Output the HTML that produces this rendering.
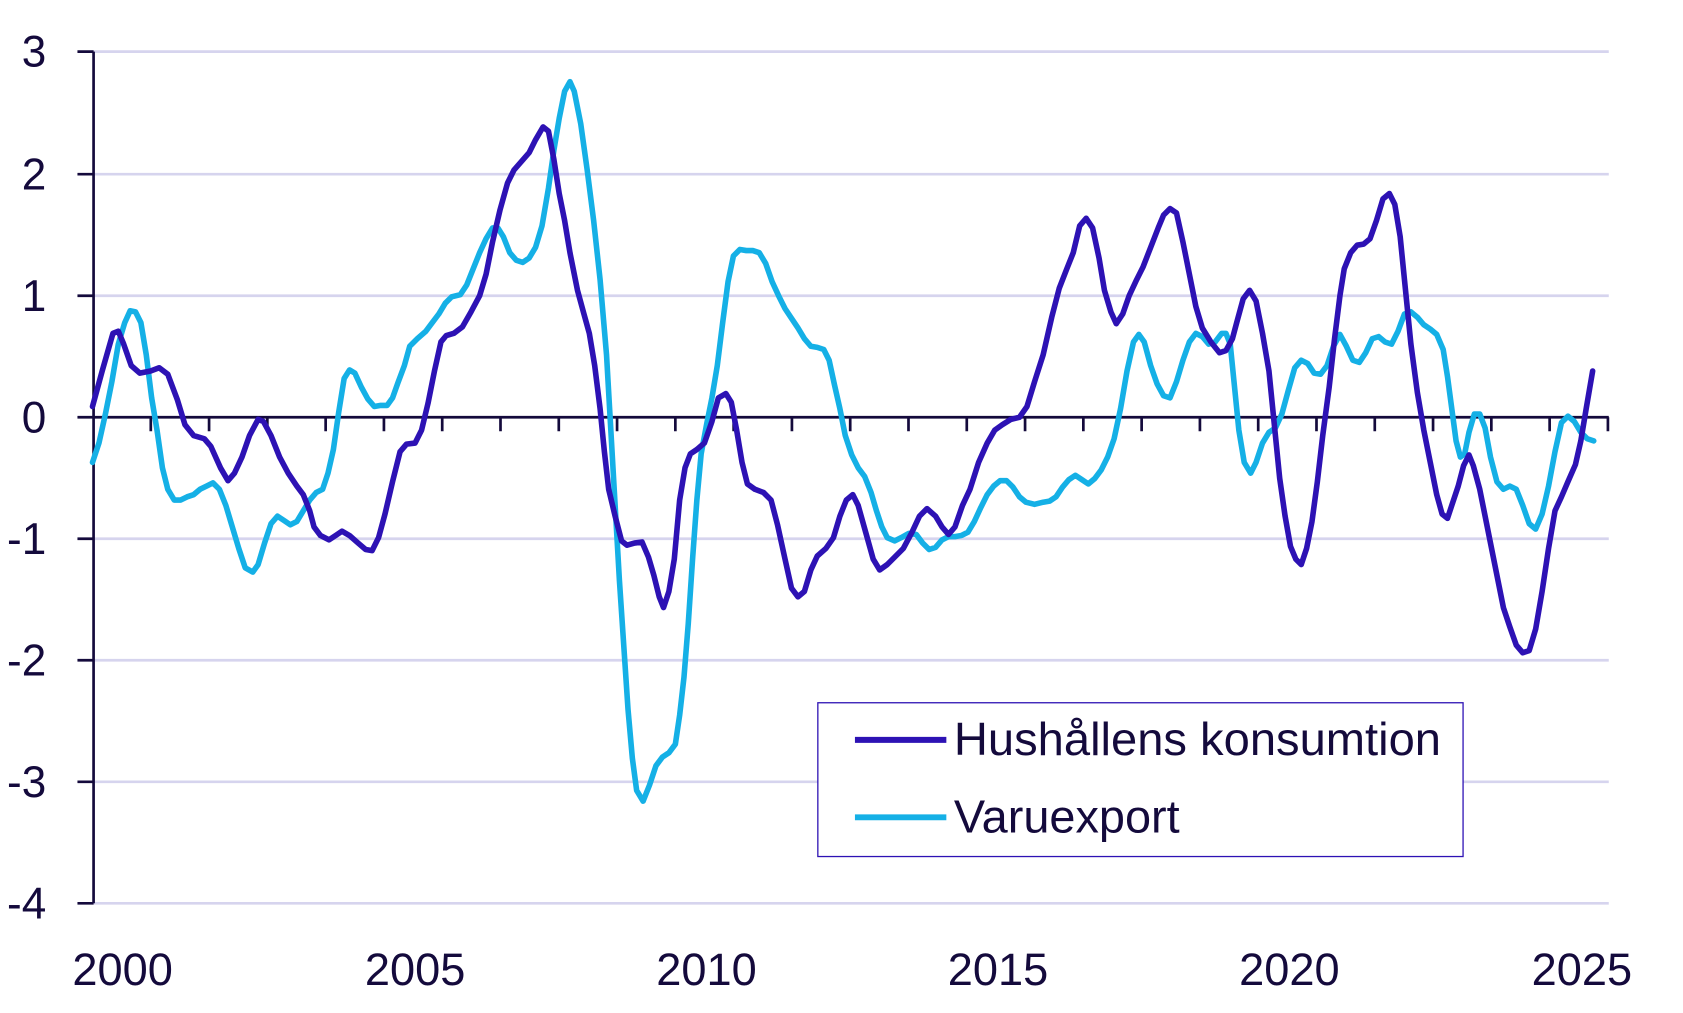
<!DOCTYPE html>
<html><head><meta charset="utf-8"><style>html,body{margin:0;padding:0;background:#fff}svg{display:block}text{font-family:"Liberation Sans",sans-serif;fill:#140a3c}</style></head>
<body>
<svg width="1683" height="1013" viewBox="0 0 1565 942" xmlns="http://www.w3.org/2000/svg">
<g stroke="#d6d4ee" stroke-width="2.5">
<line x1="86" x2="1496" y1="48" y2="48"/><line x1="86" x2="1496" y1="162" y2="162"/><line x1="86" x2="1496" y1="275" y2="275"/><line x1="86" x2="1496" y1="501" y2="501"/><line x1="86" x2="1496" y1="614" y2="614"/><line x1="86" x2="1496" y1="727" y2="727"/><line x1="86" x2="1496" y1="840" y2="840"/>
</g>
<g stroke="#140a3c" stroke-width="2.5">
<line x1="87" x2="87" y1="48" y2="840"/>
<line x1="72" x2="87" y1="48" y2="48"/><line x1="72" x2="87" y1="162" y2="162"/><line x1="72" x2="87" y1="275" y2="275"/><line x1="72" x2="87" y1="388" y2="388"/><line x1="72" x2="87" y1="501" y2="501"/><line x1="72" x2="87" y1="614" y2="614"/><line x1="72" x2="87" y1="727" y2="727"/><line x1="72" x2="87" y1="840" y2="840"/>
<line x1="87" x2="1496" y1="388" y2="388"/>
<path d="M140.2 388v13M194.4 388v13M248.6 388v13M302.8 388v13M357 388v13M411.2 388v13M465.4 388v13M519.6 388v13M573.8 388v13M628 388v13M682.2 388v13M736.4 388v13M790.6 388v13M844.8 388v13M899 388v13M953.2 388v13M1007.4 388v13M1061.6 388v13M1115.8 388v13M1170 388v13M1224.2 388v13M1278.4 388v13M1332.6 388v13M1386.8 388v13M1441 388v13M1495.2 388v13"/>
</g>
<g font-size="41" text-anchor="end">
<text x="43" y="62">3</text><text x="43" y="176">2</text><text x="43" y="289">1</text><text x="43" y="402">0</text><text x="43" y="515">-1</text><text x="43" y="628">-2</text><text x="43" y="741">-3</text><text x="43" y="854">-4</text>
</g>
<g font-size="42" text-anchor="middle">
<text x="114" y="916">2000</text><text x="386" y="916">2005</text><text x="657" y="916">2010</text><text x="928" y="916">2015</text><text x="1199" y="916">2020</text><text x="1471" y="916">2025</text>
</g>
<g fill="none" stroke-width="5.2" stroke-linejoin="round" stroke-linecap="round">
<polyline stroke="#15b0e6" points="86,430 92,412 98,385 104,355 110,320 116,300 121,289 126,290 131,300 136,330 141,370 146,400 151,435 156,455 162,465 168,465 174,462 180,460 186,455 192,452 198,449 204,455 210,470 216,490 222,510 228,528 235,532 240,525 246,505 252,487 258,480 264,484 270,488 276,485 282,475 288,465 294,458 300,455 305,440 310,418 315,383 320,352 325,344 330,347 336,360 342,371 348,378 354,377 360,377 365,370 370,356 376,340 381,322 388,315 396,308 402,300 408,292 414,282 420,276 428,274 434,265 440,250 446,235 452,222 458,212 463,212 468,220 474,235 480,242 486,244 492,240 498,230 504,210 510,175 515,140 520,110 525,85 530,76 534,85 540,115 546,158 552,205 558,260 564,330 568,400 572,470 576,540 580,600 584,660 588,705 592,735 598,745 604,730 610,712 616,704 622,700 628,692 632,665 636,630 640,580 644,520 648,465 652,422 657,395 662,370 667,340 672,300 677,262 682,238 688,232 694,233 700,233 706,235 712,245 718,262 724,275 730,287 736,296 742,305 748,315 754,322 760,323 766,325 771,335 776,358 781,380 786,405 792,423 798,435 804,443 810,458 815,475 820,490 825,500 832,503 838,500 845,496 852,497 858,505 864,511 870,509 876,502 882,499 888,499 894,498 900,495 906,485 912,472 918,460 924,452 930,447 936,447 942,453 948,462 954,467 962,469 970,467 976,466 982,462 988,453 994,446 1000,442 1006,446 1012,450 1018,445 1024,437 1030,425 1036,408 1042,380 1048,345 1054,318 1059,311 1064,318 1070,340 1076,357 1082,368 1088,370 1094,355 1100,335 1106,318 1112,310 1118,313 1124,320 1130,318 1136,310 1140,310 1144,320 1148,360 1152,400 1157,430 1163,440 1168,430 1174,412 1180,402 1186,398 1192,385 1198,363 1204,342 1210,335 1216,338 1222,347 1228,348 1234,340 1240,322 1246,311 1252,322 1258,335 1264,337 1270,328 1276,315 1282,313 1288,318 1294,320 1300,308 1306,292 1312,290 1318,295 1324,302 1330,306 1336,311 1342,325 1346,350 1350,380 1354,410 1358,425 1362,422 1366,402 1371,385 1376,385 1381,398 1386,425 1392,448 1398,455 1404,452 1410,455 1416,470 1422,487 1428,492 1434,478 1440,452 1446,420 1452,393 1458,387 1464,392 1470,402 1476,408 1482,410"/>
<polyline stroke="#2d12b4" points="86,378 95,345 105,310 110,308 115,320 122,340 130,347 140,345 148,342 156,348 165,372 172,395 180,405 190,408 196,415 205,435 212,447 218,440 225,425 232,405 240,390 245,392 252,405 260,425 268,440 276,452 282,460 288,475 292,490 298,498 306,502 312,498 318,494 325,498 333,505 340,511 346,512 352,500 358,478 365,448 372,420 378,413 386,412 392,400 398,375 404,345 410,318 415,312 422,310 430,304 438,290 446,275 452,255 458,225 465,195 472,170 478,158 485,150 492,142 498,130 505,118 510,122 515,148 520,180 525,205 530,235 537,270 543,292 548,310 553,340 558,380 562,420 566,455 572,480 578,503 583,507 590,505 597,504 603,518 608,535 613,555 617,565 622,550 627,520 632,465 637,435 642,422 648,418 655,412 662,392 668,370 675,366 680,374 685,400 690,430 695,450 702,455 710,458 717,465 723,488 730,520 736,547 742,555 748,550 754,530 760,517 768,510 775,500 781,480 787,465 793,460 798,470 805,495 812,520 818,530 825,525 832,518 840,510 848,495 855,480 862,473 870,480 876,490 882,497 888,490 895,470 902,455 910,430 918,412 925,400 932,395 940,390 948,388 955,378 962,355 970,330 978,295 985,268 992,250 998,235 1004,210 1010,203 1016,212 1022,240 1027,270 1033,290 1038,301 1044,292 1050,275 1057,260 1063,248 1070,230 1077,212 1082,200 1088,194 1094,198 1100,225 1106,255 1112,285 1118,305 1126,318 1134,328 1140,326 1146,315 1150,300 1156,278 1162,270 1168,280 1174,310 1180,345 1185,395 1190,445 1195,480 1200,508 1205,520 1210,525 1215,510 1220,485 1225,448 1230,405 1236,360 1241,315 1246,275 1250,250 1256,235 1262,228 1268,227 1274,222 1280,205 1286,185 1292,180 1297,190 1302,220 1307,270 1312,320 1318,365 1324,400 1330,430 1336,460 1341,478 1346,482 1350,470 1356,452 1361,433 1366,423 1370,433 1376,455 1382,485 1388,515 1394,545 1398,565 1404,583 1410,600 1416,607 1422,605 1428,585 1434,550 1440,510 1446,475 1452,462 1458,448 1465,432 1470,410 1475,380 1481,345"/>
</g>
<rect x="760.5" y="653.5" width="600" height="143" fill="#fff" stroke="#2d12b4" stroke-width="1.2"/>
<line x1="795" x2="880" y1="688" y2="688" stroke="#2d12b4" stroke-width="5.5"/>
<line x1="795" x2="880" y1="760" y2="760" stroke="#15b0e6" stroke-width="5.5"/>
<text x="887" y="702" font-size="43" textLength="453" lengthAdjust="spacingAndGlyphs">Hushållens konsumtion</text>
<text x="887" y="774" font-size="43" textLength="210" lengthAdjust="spacingAndGlyphs">Varuexport</text>
</svg>
</body></html>
